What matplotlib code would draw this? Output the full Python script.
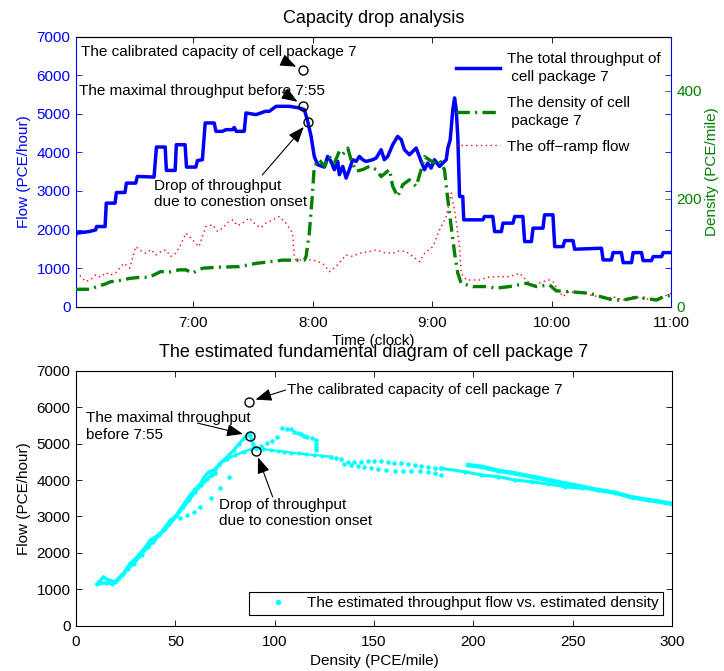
import numpy as np
import matplotlib.pyplot as plt

plt.rcParams['font.family'] = ['Liberation Sans', 'DejaVu Sans']
plt.rcParams['font.size'] = 11
plt.rcParams['axes.unicode_minus'] = True

# ---- time series, time in minutes after 6:00 ----
flow_min = [0.7, 1.0, 7.5, 10.9, 11.3, 15.6, 16.2, 20.6, 21.3, 25.6, 26.3, 31.0, 31.8,
            40.2, 41.4, 45.8, 46.4, 50.8, 51.4, 55.8, 56.5, 61.2, 62.0, 64.5, 65.9,
            70.4, 71.3, 74.6, 76.3, 79.6, 80.5, 81.5, 85.5, 86.4, 91.4, 93.9, 96.1,
            98.1, 101.5, 108.2, 113.2, 115.7, 117.4, 119.1, 120.7, 122.4, 125.8,
            127.4, 129.1, 130.8, 132.5, 133.3, 135.0, 136.7, 138.3, 140.0, 141.7,
            143.4, 145.0, 146.7, 150.1, 151.8, 154.3, 155.9, 157.6, 160.1, 162.6,
            164.4, 166.0, 168.5, 171.9, 174.4, 176.1, 177.7, 179.4, 181.1, 183.6,
            185.3, 187.0, 187.8, 189.0, 190.3, 191.2, 192.0, 192.8, 193.3, 193.7,
            195.3, 195.8, 205.4, 206.2, 210.4, 211.3, 214.7, 215.5, 220.5, 221.4,
            225.5, 226.4, 229.8, 230.6, 235.6, 236.4, 240.6, 241.5, 245.7, 246.5,
            250.7, 251.5, 265.0, 265.8, 270.0, 270.8, 275.0, 275.9, 280.1, 280.9,
            285.1, 285.9, 290.1, 291.0, 295.2, 296.0, 300.0]
flow_val = [1820, 1905, 1946, 1990, 2077, 2077, 2685, 2685, 2961, 2961, 3205, 3205, 3378,
            3362, 4142, 4142, 3534, 3534, 4202, 4202, 3621, 3621, 3790, 3812, 4767,
            4767, 4549, 4549, 4593, 4593, 4650, 4549, 4549, 5027, 4983, 5027, 5069,
            5069, 5199, 5199, 5157, 5113, 4808, 4418, 3898, 3682, 3621,
            3898, 3768, 3552, 3768, 3422, 3638, 3335, 3552, 3812, 3768,
            3898, 3812, 3768, 3812, 3856, 4072, 3812, 3898, 4202, 4418,
            4332, 4072, 3942, 4116, 3768, 3552, 3726, 3596, 3812, 3638,
            3726, 3812, 4116, 4332, 5113, 5417, 5113, 4418, 3552, 2857,
            2857, 2251, 2251, 2337, 2337, 1946, 1946, 2165, 2165, 2337,
            2337, 1686, 1686, 2035, 2035, 2381, 2381, 1556, 1556, 1712,
            1712, 1488, 1514, 1210, 1210, 1400, 1400, 1140, 1140, 1400,
            1400, 1192, 1192, 1296, 1296, 1400, 1400]

dens_min = [0.8, 7.5, 15.9, 18.4, 24.3, 27.6, 32.7, 37.7, 43.6, 46.9, 52.8, 56.2, 59.5,
            64.5, 72.9, 83.0, 91.4, 98.1, 104.8, 115.7, 116.6, 118.2, 119.6, 120.7,
            123.2, 125.8, 128.3, 130.8, 133.3, 135.0, 137.5, 139.2, 141.7, 145.0,
            148.4, 151.8, 154.3, 158.5, 160.1, 162.6, 165.2, 168.5, 171.9, 174.4,
            176.1, 178.6, 181.1, 183.6, 186.1, 187.8, 189.5, 191.2, 192.8, 194.5,
            200.4, 207.1, 212.1, 218.8, 227.2, 232.3, 238.9, 242.3, 249.0, 259.1,
            265.8, 270.8, 275.9, 282.6, 287.6, 292.7, 296.0, 299.9]
dens_val = [32, 32, 42, 46, 49, 52, 54, 54, 65, 63, 68, 68, 62,
            71, 73, 74, 80, 83, 86, 86, 93, 136, 200, 260,
            272, 260, 278, 266, 288, 282, 294, 272, 251, 254,
            260, 254, 241, 254, 223, 204, 226, 235, 223, 254,
            278, 272, 266, 272, 254, 198, 148, 99, 62, 43,
            37, 37, 34, 37, 43, 37, 40, 29, 27.5, 24.5,
            17, 12, 12, 17, 15, 12, 18, 21]

ramp_min = [0.8, 3.0, 5.9, 8.4, 10.9, 13.4, 15.9, 18.4, 21.0, 25.1, 28.0, 31.0, 33.5,
            36.1, 38.6, 41.1, 43.6, 46.1, 48.6, 51.1, 53.6, 56.2, 59.5, 62.8, 66.2,
            69.6, 72.1, 74.6, 77.1, 79.6, 82.2, 84.7, 88.0, 91.4, 94.0, 96.4, 99.8,
            103.1, 106.5, 109.8, 110.7, 111.5, 116.6, 119.9, 124.9, 128.3, 131.6,
            136.7, 140.0, 143.4, 147.6, 151.8, 156.0, 160.1, 163.5, 166.9, 170.2,
            173.6, 176.1, 180.3, 183.6, 187.0, 189.5, 191.2, 192.8, 193.7, 194.5,
            197.1, 203.7, 208.0, 212.1, 218.8, 223.9, 227.0, 230.6, 235.0, 238.9,
            240.6, 245.7, 249.0, 252.4, 256.0, 259.1, 263.0, 267.5, 271.0, 275.9,
            280.9, 285.9, 291.0, 296.0, 300.0]
ramp_val = [734, 800, 645, 700, 820, 760, 880, 820, 880, 1124, 1000, 1556, 1450,
            1384, 1480, 1340, 1420, 1470, 1300, 1384, 1600, 1905, 1730, 1556, 2077,
            2120, 1950, 2035, 2180, 2251, 2100, 2165, 2300, 2120, 2050, 2165, 2250,
            2337, 2165, 1905, 1296, 1210, 1210, 1210, 1124, 906, 1036,
            1340, 1300, 1384, 1420, 1470, 1400, 1384, 1450, 1426, 1296,
            1166, 1384, 1556, 1990, 2337, 2945, 2500, 1900, 1556, 864,
            690, 690, 760, 776, 776, 864, 700, 515, 640, 690,
            645, 255, 400, 343, 380, 300, 260, 213, 250, 170,
            255, 213, 170, 255, 343]

# events marked on both panels
mark_min = [114.8, 115.2, 117.7]
mark_flow = [6150, 5220, 4800]
mark_dens = [87.0, 87.4, 90.4]

# ---- estimated fundamental diagram (density, flow) ----
rise_a_dens = [10.4, 12.0, 13.8, 16.0, 19.7, 21.5, 23.9, 25.5, 27.3, 30.0, 32.3, 35.0,
               37.4, 40.0, 42.4, 45.0, 47.5, 50.0, 52.5, 55.0, 57.6, 60.0, 62.6, 64.5,
               66.8, 69.3, 72.0, 74.4, 77.0, 79.4, 82.0, 84.5, 86.2, 87.4]
rise_a_flow = [1145, 1230, 1345, 1260, 1208, 1300, 1438, 1580, 1713, 1850, 1987, 2170,
               2352, 2440, 2536, 2720, 2901, 3000, 3200, 3400, 3600, 3750, 3900, 4080,
               4227, 4274, 4420, 4548, 4690, 4823, 4990, 5144, 5235, 5250]
rise_b_dens = [12.0, 15.0, 18.0, 20.5, 23.0, 26.0, 29.0, 33.0, 36.0, 39.0, 42.0, 44.5,
               47.0, 50.5, 54.0, 57.0, 60.0, 63.0, 66.0, 68.5, 70.0]
rise_b_flow = [1160, 1180, 1150, 1250, 1400, 1550, 1700, 1950, 2150, 2300, 2500, 2620,
               2780, 3000, 3250, 3450, 3680, 3850, 4020, 4150, 4200]
lower_dens = [70.0, 72.0, 76.0, 80.0, 84.5, 88.0, 90.4]
lower_flow = [4200, 4450, 4580, 4680, 4780, 4840, 4869]
drop_dens = [87.4, 88.3, 89.0, 89.6, 90.4]
drop_flow = [5235, 5120, 4990, 4900, 4869]
cong_dens = [90.4, 94.0, 98.0, 101.5, 104.7, 108.0, 112.0, 116.0, 119.9, 124.0, 128.3]
cong_flow = [4869, 4850, 4820, 4800, 4777, 4755, 4730, 4705, 4686, 4665, 4640]
tail_dens = [183.8, 195.6, 204.0, 212.5, 220.9, 229.3, 237.7, 246.1, 254.5]
tail_flow = [4320, 4228, 4137, 4090, 4000, 3953, 3890, 3816, 3771]
band_dens = [197.3, 204.0, 212.5, 220.9, 229.3, 237.7, 246.1, 254.5, 262.9, 271.4,
             279.8, 288.3, 296.8, 300.0]
band_flow = [4411, 4365, 4255, 4183, 4090, 4000, 3908, 3816, 3725, 3651,
             3524, 3450, 3376, 3350]

peak_dens = [93.0, 96.3, 98.8, 101.4, 103.9, 106.4, 108.1, 109.8, 111.5, 113.1, 114.8,
             116.5, 118.6, 120.7, 120.7, 120.7, 120.7]
peak_flow = [4930, 5007, 5079, 5188, 5418, 5391, 5391, 5326, 5290, 5253, 5220,
             5188, 5140, 5097, 5000, 4910, 4823]
stray_dens = [52.5, 55.9, 59.2, 62.6, 67.7, 72.7, 76.9]
stray_flow = [2948, 3039, 3130, 3267, 3497, 3771, 4090]
upper_dens = [128.3, 131.0, 133.3, 136.7, 140.0, 143.4, 146.8, 150.2, 153.5, 156.9,
              160.3, 163.6, 167.0, 170.4, 173.7, 177.1, 180.5, 183.8]
upper_flow = [4640, 4600, 4567, 4503, 4500, 4503, 4520, 4530, 4515, 4503,
              4480, 4457, 4435, 4411, 4390, 4365, 4340, 4320]
split_dens = [135.0, 138.4, 141.8, 145.1, 148.5, 151.9, 156.1, 160.4, 164.5, 168.7,
              172.9, 177.1, 180.5, 183.8]
split_flow = [4440, 4411, 4390, 4365, 4330, 4292, 4270, 4246, 4246, 4246,
              4236, 4228, 4180, 4137]

ticks_hours = [7, 8, 9, 10, 11]
ticks_text = ['7:00', '8:00', '9:00', '10:00', '11:00']
blue = '#0000ff'
green = '#008000'
cyan = '#00ffff'


def hours(m):
    return 6 + np.asarray(m, dtype=float) / 60.0


def style_axes(ax):
    ax.tick_params(direction='in', length=4, width=0.6, top=True, right=True)
    ax.tick_params(axis='x', pad=7)
    ax.tick_params(axis='y', pad=4)


def arrow(ax, tail, head, shrink=5):
    ax.annotate('', xy=head, xytext=tail,
                arrowprops=dict(arrowstyle='-|>,head_length=0.7,head_width=0.27',
                                mutation_scale=14, color='black', lw=0.8,
                                shrinkA=0, shrinkB=shrink))


fig = plt.figure(figsize=(7.24, 6.71), dpi=100)

# ---- upper panel: time series ----
ax1 = fig.add_axes([0.105, 0.5432, 0.822, 0.4017])
ax2 = ax1.twinx()
ax2.set_position(ax1.get_position())

l_flow, = ax1.plot(hours(flow_min), flow_val, color=blue, lw=2.5,
                   label='The total throughput of\n cell package 7')
l_ramp, = ax1.plot(hours(ramp_min), ramp_val, color='red', lw=1,
                   linestyle=(0, (1, 2.5)), label='The off\u2212ramp flow')
l_dens, = ax2.plot(hours(dens_min), dens_val, color=green, lw=2.4,
                   linestyle=(0, (4, 1.6, 0.6, 1.6)),
                   label='The density of cell\n package 7')
ax1.plot(hours(mark_min), mark_flow, 'o', mfc='none', mec='black', ms=6.5, mew=1)

ax1.set_xlim(hours(1), 11)
ax1.set_ylim(0, 7000)
ax2.set_ylim(0, 500)
ax1.set_xticks(ticks_hours)
ax1.set_xticklabels(ticks_text)
ax1.set_yticks(np.arange(0, 7001, 1000))
ax2.set_yticks([0, 200, 400])
style_axes(ax1)
ax1.tick_params(axis='y', colors=blue)
ax1.tick_params(axis='x', colors='black')
ax2.tick_params(direction='in', length=4, width=0.6, colors=green, pad=4)
for s in ('left', 'right'):
    ax1.spines[s].set_color(blue)
    ax2.spines[s].set_visible(False)
ax1.set_ylabel('Flow (PCE/hour)', color=blue, labelpad=4)
ax2.set_ylabel('Density (PCE/mile)', color=green, labelpad=2)
ax1.set_xlabel('Time (clock)', labelpad=3)
ax1.set_title('Capacity drop analysis', fontsize=13, pad=10)

leg1 = ax2.legend(handles=[l_flow, l_dens, l_ramp], loc='upper left', frameon=False,
                  bbox_to_anchor=(0.638, 0.945), borderaxespad=0, borderpad=0,
                  handlelength=2.9, handletextpad=0.45, labelspacing=0.75)
for t in leg1.get_texts():
    t.set_linespacing(1.4)

ax2.text(hours(1) + 0.04, 6610, 'The calibrated capacity of cell package 7',
         transform=ax1.transData, va='center', ha='left')
ax2.text(hours(1) + 0.025, 5600, 'The maximal throughput before 7:55',
         transform=ax1.transData, va='center', ha='left')
ax2.text(6.672, 2922, 'Drop of throughput\ndue to conestion onset',
         transform=ax1.transData, va='center', ha='left', linespacing=1.25)
arrow(ax1, (7.777, 6350), (hours(mark_min[0]), mark_flow[0]))
arrow(ax1, (7.744, 5571), (hours(mark_min[1]), mark_flow[1]))
arrow(ax1, (7.576, 3415), (hours(mark_min[2]), mark_flow[2]))

# ---- lower panel: estimated fundamental diagram ----
ax3 = fig.add_axes([0.105, 0.0675, 0.8232, 0.380])
dense = [(rise_a_dens, rise_a_flow, 2.2), (rise_b_dens, rise_b_flow, 2.2),
         (lower_dens, lower_flow, 1.8), (drop_dens, drop_flow, 1.8),
         (cong_dens, cong_flow, 1.6), (tail_dens, tail_flow, 2.2),
         (band_dens, band_flow, 3.2)]
for d, f, w in dense:
    ax3.plot(d, f, color=cyan, lw=w, marker='.', ms=4)
sparse = [(peak_dens, peak_flow), (stray_dens, stray_flow),
          (upper_dens, upper_flow), (split_dens, split_flow)]
for i, (d, f) in enumerate(sparse):
    ax3.plot(d, f, linestyle='none', color=cyan, marker='.', ms=4.5,
             label='The estimated throughput flow vs. estimated density' if i == 0 else None)
ax3.plot(mark_dens, mark_flow, 'o', mfc='none', mec='black', ms=6.5, mew=1)

ax3.set_xlim(0, 300)
ax3.set_ylim(0, 7000)
ax3.set_yticks(np.arange(0, 7001, 1000))
style_axes(ax3)
ax3.set_xlabel('Density (PCE/mile)', labelpad=3)
ax3.set_ylabel('Flow (PCE/hour)', labelpad=4)
ax3.set_title('The estimated fundamental diagram of cell package 7', fontsize=13, pad=10)

leg = ax3.legend(loc='lower right', bbox_to_anchor=(0.985, 0.042), borderaxespad=0,
                 fancybox=False, edgecolor='black', framealpha=1, markerscale=1.3,
                 handlelength=3.2, handletextpad=0.3, borderpad=0.3)
leg.get_frame().set_linewidth(0.8)

ax3.text(106.4, 6470, 'The calibrated capacity of cell package 7', va='center', ha='left')
ax3.text(5.05, 5463, 'The maximal throughput\nbefore 7:55', va='center', ha='left',
         linespacing=1.25)
ax3.text(72.2, 3094, 'Drop of throughput\ndue to conestion onset', va='center', ha='left',
         linespacing=1.25)
arrow(ax3, (105.5, 6470), (mark_dens[0], mark_flow[0]))
arrow(ax3, (61.1, 5563), (mark_dens[1], mark_flow[1]))
arrow(ax3, (99.0, 3533), (mark_dens[2], mark_flow[2]))

fig.savefig('out.png', dpi=100)
